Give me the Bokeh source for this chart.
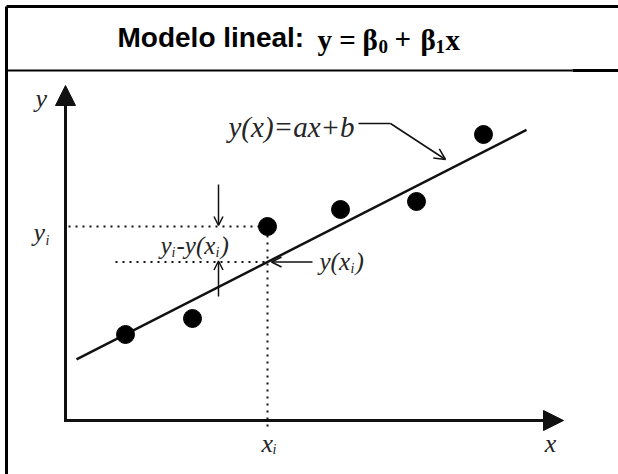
from bokeh.plotting import figure
from bokeh.models import Range1d, Label, Arrow, NormalHead, OpenHead
from bokeh.embed import file_html
from bokeh.resources import INLINE

# Sample observations (x, y) in the diagram's own units, origin at the axes corner
obs_x = [60, 127, 202, 275, 351, 418]
obs_y = [86, 102, 194, 211, 219, 286]

# Fitted line y(x) = a*x + b and its drawn extent
fit_a = 0.51
fit_b = 55.5
fit_x = [11, 461]

# Highlighted observation (x_i, y_i)
sel = 2

W, H = 618, 474
p = figure(width=W, height=H, x_range=Range1d(-65, 553), y_range=Range1d(-54, 420),
           output_backend="svg", toolbar_location=None, min_border=0,
           background_fill_color="white", border_fill_color="white")
p.axis.visible = False
p.grid.visible = False
p.outline_line_color = None

INK = "#111111"
SERIF = "Liberation Serif"


def label(x, y, s, size=26, style="italic", font=SERIF, align="left",
          baseline="middle", color="#262626"):
    p.add_layout(Label(x=x, y=y, text=s, text_font=font, text_font_style=style,
                       text_font_size=f"{size}px", text_align=align,
                       text_baseline=baseline, text_color=color))


# Frame of the box and the title band separator
p.line([-59, -59], [-60, 414], line_color="black", line_width=3)
p.line([-59, 560], [414, 414], line_color="black", line_width=3)
p.line([-59, 507], [350, 350], line_color="black", line_width=2)
p.line([507, 560], [350, 350], line_color="black", line_width=3)

# Title
label(52, 383, "Modelo lineal:", size=28, style="bold", font="Liberation Sans",
      color="black")
label(252, 381, "y =", size=29, style="bold", color="black")
label(297, 381, "\u03b2", size=29, style="bold", color="black")
label(313, 374, "0", size=19, style="bold", color="black")
label(329, 381, "+", size=29, style="bold", color="black")
label(355, 381, "\u03b2", size=29, style="bold", color="black")
label(370, 374, "1", size=19, style="bold", color="black")
label(380, 381, "x", size=29, style="bold", color="black")

# Axes with arrow heads
p.add_layout(Arrow(end=NormalHead(size=20, fill_color=INK, line_color=INK),
                   x_start=0, y_start=0, x_end=0, y_end=335,
                   line_color=INK, line_width=3, line_cap="square"))
p.add_layout(Arrow(end=NormalHead(size=20, fill_color=INK, line_color=INK),
                   x_start=0, y_start=0, x_end=498, y_end=0,
                   line_color=INK, line_width=3, line_cap="square"))
label(-30, 322, "y")
label(485, -23, "x", align="center")

xi, yi = obs_x[sel], obs_y[sel]
y_fit_i = fit_a * xi + fit_b

# Dotted guides to the highlighted observation and to the fitted value
p.line([3, xi], [yi, yi], line_color=INK, line_width=2, line_dash="2 5")
p.line([xi, xi], [-6, yi], line_color=INK, line_width=2, line_dash="2 5")
p.line([50, xi], [y_fit_i, y_fit_i], line_color=INK, line_width=2, line_dash="2 5")

# Fitted line and observations
p.line(fit_x, [fit_a * v + fit_b for v in fit_x], line_color=INK, line_width=2.5)
p.scatter(obs_x, obs_y, size=18, color="black")

# Axis markers x_i and y_i
label(-32, 188, "y")
label(-20, 180, "i", size=14)
label(196, -23, "x")
label(207, -29, "i", size=14)

# Residual arrows
p.add_layout(Arrow(end=OpenHead(size=9, line_color=INK, line_width=1.5),
                   x_start=153, y_start=236, x_end=153, y_end=yi + 1,
                   line_color=INK, line_width=1.5))
p.add_layout(Arrow(end=OpenHead(size=9, line_color=INK, line_width=1.5),
                   x_start=153, y_start=124, x_end=153, y_end=y_fit_i + 1,
                   line_color=INK, line_width=1.5))
label(95, 175, "y", size=25)
label(106, 168, "i", size=14)
label(111, 175, "-y(x", size=25)
label(150, 168, "i", size=14)
label(155, 175, ")", size=25)

# Arrow pointing at the fitted value y(x_i)
p.add_layout(Arrow(end=OpenHead(size=10, line_color=INK, line_width=1.5),
                   x_start=247, y_start=y_fit_i, x_end=xi + 4, y_end=y_fit_i,
                   line_color=INK, line_width=1.5))
label(254, y_fit_i, "y(x", size=25)
label(285, y_fit_i - 7, "i", size=14)
label(290, y_fit_i, ")", size=25)

# Equation of the fitted line with its leader
label(163, 294, "y(x)=ax+b", size=29)
p.line([293, 325], [297, 297], line_color=INK, line_width=1.5)
p.add_layout(Arrow(end=OpenHead(size=11, line_color=INK, line_width=1.5),
                   x_start=325, y_start=297, x_end=380, y_end=261,
                   line_color=INK, line_width=1.5))

open("out.html", "w").write(file_html(p, INLINE))
